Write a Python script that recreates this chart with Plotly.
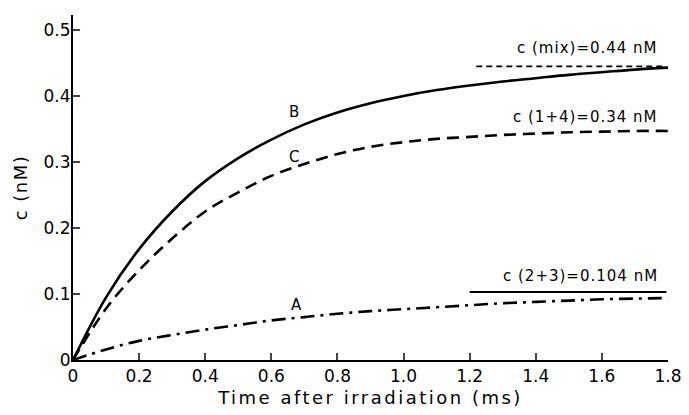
import plotly.graph_objects as go

t = [0.0, 0.1, 0.2, 0.3, 0.4, 0.5, 0.6, 0.7, 0.8, 0.9, 1.0, 1.1, 1.2, 1.3, 1.4, 1.5, 1.6, 1.7, 1.8]
curve_B = [0, 0.095, 0.168, 0.225, 0.271, 0.306, 0.334, 0.357, 0.375, 0.389, 0.400, 0.409, 0.416, 0.422, 0.427, 0.432, 0.436, 0.440, 0.443]
curve_C = [0, 0.078, 0.136, 0.184, 0.225, 0.254, 0.279, 0.297, 0.312, 0.323, 0.330, 0.335, 0.338, 0.341, 0.343, 0.345, 0.346, 0.347, 0.347]
curve_A = [0, 0.016, 0.029, 0.038, 0.046, 0.053, 0.060, 0.065, 0.070, 0.074, 0.077, 0.080, 0.083, 0.086, 0.088, 0.090, 0.092, 0.093, 0.094]

limit_x = [1.22, 1.79]
limit_mix = 0.445
limit_23_x = [1.2, 1.795]
limit_23 = 0.103

limit_labels = ["c (mix)=0.44 nM", "c (1+4)=0.34 nM", "c (2+3)=0.104 nM"]
limit_label_y = [0.472, 0.368, 0.128]
curve_labels = ["B", "C", "A"]
curve_label_xy = [(0.67, 0.375), (0.67, 0.307), (0.675, 0.083)]

x_ticks = [0, 0.2, 0.4, 0.6, 0.8, 1.0, 1.2, 1.4, 1.6, 1.8]
x_ticktext = ["0", "0.2", "0.4", "0.6", "0.8", "1.0", "1.2", "1.4", "1.6", "1.8"]
y_ticks = [0, 0.1, 0.2, 0.3, 0.4, 0.5]
y_ticktext = ["0", "0.1", "0.2", "0.3", "0.4", "0.5"]

FONT = "DejaVu Sans"


def spaced(s, px):
    return '<span style="letter-spacing:%spx">%s</span>' % (px, s)


fig = go.Figure()
fig.add_trace(go.Scatter(x=t, y=curve_B, mode="lines", line=dict(color="black", width=2.6, shape="spline"), showlegend=False))
fig.add_trace(go.Scatter(x=t, y=curve_C, mode="lines", line=dict(color="black", width=2.6, dash="12px,7px", shape="spline"), showlegend=False))
fig.add_trace(go.Scatter(x=t, y=curve_A, mode="lines", line=dict(color="black", width=2.6, dash="14px,6px,3px,6px", shape="spline"), showlegend=False))
fig.add_trace(go.Scatter(x=limit_x, y=[limit_mix, limit_mix], mode="lines", line=dict(color="black", width=1.8, dash="6px,4px"), showlegend=False))
fig.add_trace(go.Scatter(x=limit_23_x, y=[limit_23, limit_23], mode="lines", line=dict(color="black", width=1.8), showlegend=False))

for txt, yy in zip(limit_labels, limit_label_y):
    fig.add_annotation(x=1.775, y=yy, text=spaced(txt, 1), showarrow=False, xanchor="right", yanchor="middle",
                       font=dict(family=FONT, size=15, color="black"))
for txt, (xx, yy) in zip(curve_labels, curve_label_xy):
    fig.add_annotation(x=xx, y=yy, text=txt, showarrow=False, xanchor="center", yanchor="middle",
                       font=dict(family=FONT, size=15, color="black"))

fig.update_layout(
    width=681, height=407,
    margin=dict(l=65, r=16, t=7, b=55),
    plot_bgcolor="white", paper_bgcolor="white",
    font=dict(family=FONT, size=17, color="black"),
)
fig.update_xaxes(range=[0, 1.8], tickvals=x_ticks, ticktext=x_ticktext, ticks="inside", ticklen=7, tickwidth=2,
                 showline=True, linewidth=2, linecolor="black", showgrid=False, zeroline=False,
                 title=dict(text=spaced("Time after irradiation (ms)", 2.5), font=dict(size=18), standoff=6))
fig.update_yaxes(range=[0, 0.5227], tickvals=y_ticks, ticktext=y_ticktext, ticks="inside", ticklen=7, tickwidth=2,
                 showline=True, linewidth=2, linecolor="black", showgrid=False, zeroline=False,
                 ticklabelstandoff=-3,
                 title=dict(text=spaced("c (nM)", 1.5), font=dict(size=18), standoff=11))

fig.write_html("out.html")
